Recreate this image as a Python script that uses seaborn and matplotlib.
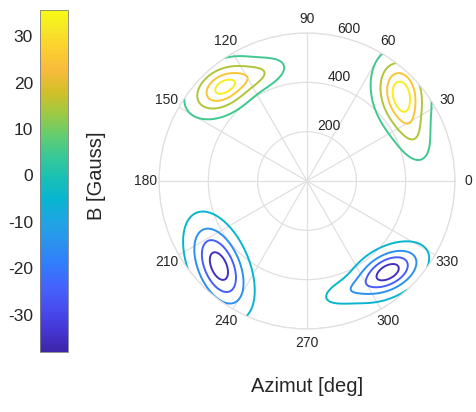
import numpy as np
import matplotlib
matplotlib.use("Agg")
import matplotlib.pyplot as plt
from matplotlib.colors import LinearSegmentedColormap, Normalize
from matplotlib.cm import ScalarMappable
import seaborn as sns

# ---------------- data ----------------
# field blobs (data units, cartesian x/y in the polar plane)
blob_x = [-345, -200, 381, 420, -357, 330, 160]
blob_y = [377, 430, 360, 207, -345, -368, -448]
blob_amp = [34, 13, 36, 13, -40, -40, -9]
blob_sig_major = [85, 80, 90, 90, 115, 88, 75]
blob_sig_minor = [55, 38, 60, 45, 60, 50, 33]
blob_angle = [32, 20, -78, -70, -67, 28, 18]

contour_levels = [-35, -25, -15, -5, 5, 15, 25, 33]
color_limits = [-38, 35.6]
cbar_ticks = [-30, -20, -10, 0, 10, 20, 30]
theta_ticks_deg = [0, 30, 60, 90, 120, 150, 180, 210, 240, 270, 300, 330]
r_ticks = [200, 400, 600]
r_max = 600

parula_pos = [0/63, 4/63, 8/63, 12/63, 16/63, 20/63, 24/63, 28/63, 32/63,
              36/63, 40/63, 44/63, 48/63, 52/63, 56/63, 60/63, 1.0]
parula_rgb = [(0.2422, 0.1504, 0.6603), (0.2706, 0.2147, 0.8364),
              (0.2813, 0.3006, 0.9414), (0.2699, 0.3892, 0.9906),
              (0.1963, 0.4847, 0.9892), (0.1687, 0.5703, 0.9359),
              (0.1248, 0.6459, 0.8883), (0.0297, 0.7082, 0.8163),
              (0.0964, 0.7500, 0.7120), (0.2161, 0.7843, 0.5923),
              (0.3909, 0.8029, 0.4354), (0.6174, 0.7876, 0.2612),
              (0.8203, 0.7498, 0.1535), (0.9728, 0.7298, 0.2394),
              (0.9892, 0.8136, 0.1885), (0.9597, 0.9135, 0.1423),
              (0.9769, 0.9839, 0.0805)]

# ---------------- style ----------------
sns.set_theme(style="white")
plt.rcParams["font.family"] = ["Liberation Sans", "DejaVu Sans"]
plt.rcParams["axes.unicode_minus"] = False
txt = "#262626"

cmap = LinearSegmentedColormap.from_list("parula", list(zip(parula_pos, parula_rgb)))
norm = Normalize(vmin=color_limits[0], vmax=color_limits[1])

# grid in polar coords
theta = np.linspace(0, 2 * np.pi, 721)
rr = np.linspace(0, r_max, 401)
T, R = np.meshgrid(theta, rr)
X = R * np.cos(T)
Y = R * np.sin(T)
Z = np.zeros_like(X)
for cx, cy, a, smj, smn, ang in zip(blob_x, blob_y, blob_amp, blob_sig_major,
                                    blob_sig_minor, blob_angle):
    c, s = np.cos(np.deg2rad(ang)), np.sin(np.deg2rad(ang))
    u = (X - cx) * c + (Y - cy) * s
    v = -(X - cx) * s + (Y - cy) * c
    Z += a * np.exp(-0.5 * ((u / smj) ** 2 + (v / smn) ** 2))

fig = plt.figure(figsize=(4.77, 4.12), dpi=100)
ax = fig.add_axes([0.3333, 0.2015, 0.6205, 0.7184], projection="polar")
ax.contour(T, R, Z, levels=contour_levels, cmap=cmap, norm=norm, linewidths=1.4)

ax.set_ylim(0, r_max)
ax.set_yticks(r_ticks)
ax.set_yticklabels([str(v) for v in r_ticks], fontsize=10, color=txt)
ax.set_rlabel_position(78)
ax.set_xticks(np.deg2rad(theta_ticks_deg))
ax.set_xticklabels([str(v) for v in theta_ticks_deg], fontsize=10, color=txt)
ax.tick_params(axis="x", pad=-3)
ax.grid(True, color="#e0e0e0", linewidth=0.9)
ax.spines["polar"].set_color("#e0e0e0")
ax.spines["polar"].set_linewidth(0.9)
ax.set_facecolor("white")

# colorbar
cax = fig.add_axes([0.0839, 0.1456, 0.0587, 0.830])
sm = ScalarMappable(norm=norm, cmap=cmap)
cb = fig.colorbar(sm, cax=cax)
cb.set_ticks(cbar_ticks)
cb.ax.yaxis.set_ticks_position("left")
cb.ax.tick_params(direction="in", length=4, width=0.6, color="#404040",
                  labelsize=12.5, labelcolor=txt, pad=5)
cb.outline.set_edgecolor("#808080")
cb.outline.set_linewidth(0.6)

fig.text(97 / 477, 1 - 176 / 412, "B [Gauss]", rotation=90, ha="center",
         va="center", fontsize=14.5, color=txt)
fig.text(307 / 477, 1 - 387 / 412, "Azimut [deg]", ha="center", va="center",
         fontsize=14.5, color=txt)

fig.savefig("out.png", dpi=100)
